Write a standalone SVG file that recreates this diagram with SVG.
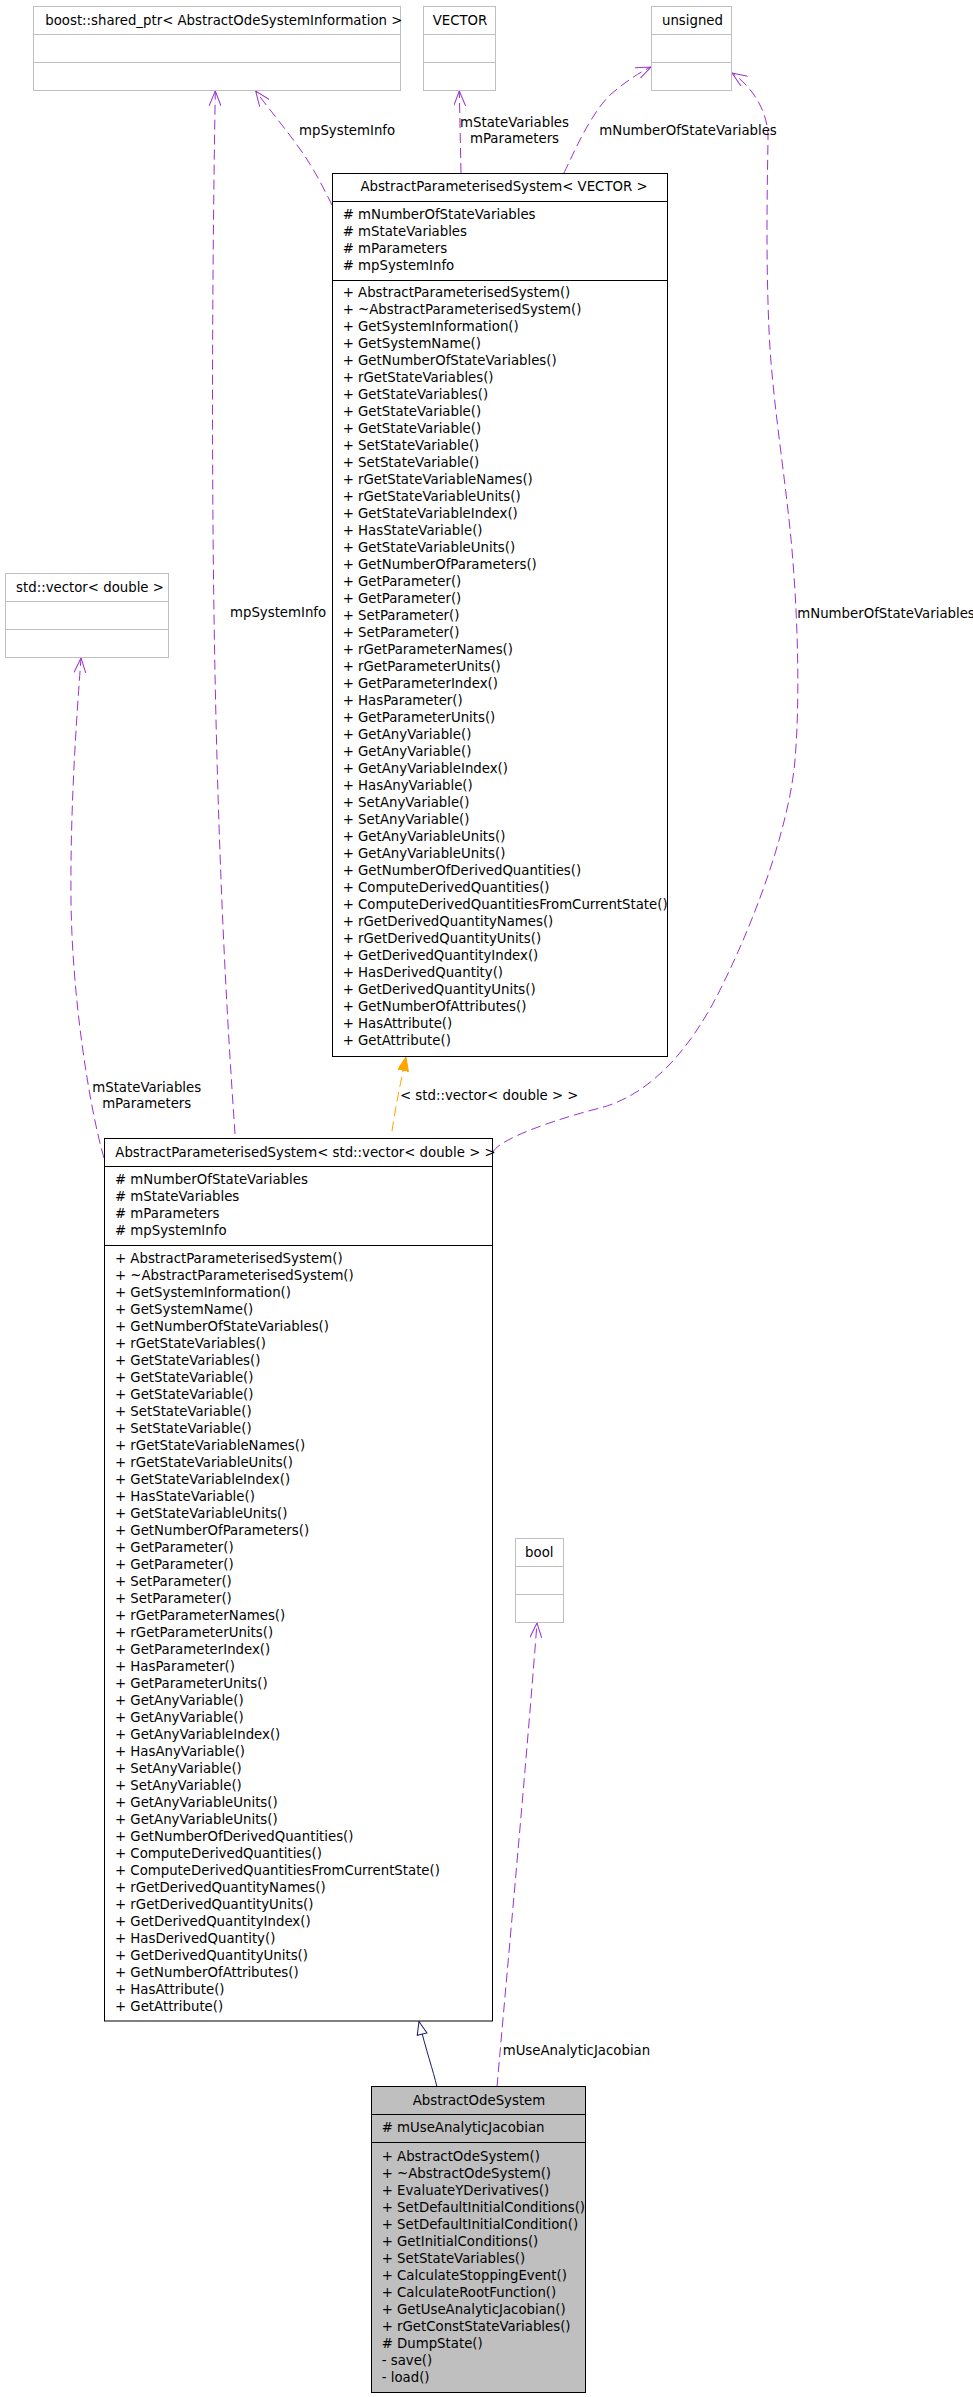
<svg xmlns="http://www.w3.org/2000/svg" width="973" height="2397" viewBox="0 0 973 2397">
<style>
text{font-family:"DejaVu Sans","Liberation Sans",sans-serif;font-size:13.3px;fill:#000}
.c{text-anchor:middle}
.tb{fill:#fff;stroke:#bfbfbf;stroke-width:1}
.tl{stroke:#bfbfbf;stroke-width:1}
.cb{fill:#fff;stroke:#000;stroke-width:1}
.cl{stroke:#000;stroke-width:1}
.use{fill:none;stroke:#9a32cd;stroke-width:1;stroke-dasharray:10,5;marker-end:url(#vee)}
.real{fill:none;stroke:#ffa500;stroke-width:1;stroke-dasharray:10,5;marker-end:url(#tri)}
.inh{fill:none;stroke:#191970;stroke-width:1;marker-end:url(#emp)}
</style>
<defs>
<marker id="vee" viewBox="0 0 15 12" refX="15" refY="6" markerWidth="15" markerHeight="12" markerUnits="userSpaceOnUse" orient="auto"><path d="M0,0 L15,6 L0,12" fill="none" stroke="#9a32cd" stroke-width="1"/></marker>
<marker id="tri" viewBox="0 0 14 11" refX="14" refY="5.5" markerWidth="14" markerHeight="11" markerUnits="userSpaceOnUse" orient="auto"><path d="M0,0 L14,5.5 L0,11 Z" fill="#ffa500" stroke="#ffa500" stroke-width="1"/></marker>
<marker id="emp" viewBox="0 0 15 12" refX="14" refY="6" markerWidth="15" markerHeight="12" markerUnits="userSpaceOnUse" orient="auto"><path d="M1,1 L14,6 L1,11 Z" fill="#fff" stroke="#191970" stroke-width="1"/></marker>
</defs>

<g id="connectors">
<path class="use" d="M235,1134 C226,1000 205,700 215.3,91"/>
<path class="use" d="M332,205 C322,185 312,165 297,145 C285,128 268,108 255.7,91"/>
<path class="use" d="M461,173 L459.3,91"/>
<path class="use" d="M564,173 C575,150 590,115 610,95 C625,82 640,72 651,67"/>
<path class="use" d="M493,1152 C500,1138 560,1118 600,1108 C650,1095 690,1050 720,990 C760,910 790,820 795,760 C800,700 798,620 792,550 C786,480 772,400 769,330 C766,260 767,200 768,140 C769,110 750,85 732,73"/>
<path class="use" d="M104,1158 C90,1110 72,1000 71,900 C70,800 78,700 81,658"/>
<path class="use" d="M497,2087 C508,1960 525,1780 537,1623"/>
<path class="real" d="M392,1131 C395,1110 400,1085 406,1057"/>
<path class="inh" d="M437,2087 C433,2070 426,2050 419,2021.5"/>
<text x="299" y="135">mpSystemInfo</text>
<text x="230" y="617">mpSystemInfo</text>
<text class="c" x="514.5" y="126.7">mStateVariables</text>
<text class="c" x="514.5" y="143.3">mParameters</text>
<text x="599.3" y="135">mNumberOfStateVariables</text>
<text x="797.3" y="618">mNumberOfStateVariables</text>
<text class="c" x="146.7" y="1091.7">mStateVariables</text>
<text class="c" x="146.7" y="1108.3">mParameters</text>
<text x="400" y="1100">&lt; std::vector&lt; double &gt; &gt;</text>
<text x="502.7" y="2055">mUseAnalyticJacobian</text>
</g>

<g id="node-boost">
<rect class="tb" x="33.5" y="6.5" width="367" height="84"/>
<line class="tl" x1="33.5" y1="34.5" x2="400.5" y2="34.5"/>
<line class="tl" x1="33.5" y1="62.5" x2="400.5" y2="62.5"/>
<text class="c" x="223.8" y="25">boost::shared_ptr&lt; AbstractOdeSystemInformation &gt;</text>
</g>

<g id="node-VECTOR">
<rect class="tb" x="423.5" y="6.5" width="72" height="84"/>
<line class="tl" x1="423.5" y1="34.5" x2="495.5" y2="34.5"/>
<line class="tl" x1="423.5" y1="62.5" x2="495.5" y2="62.5"/>
<text class="c" x="460" y="25">VECTOR</text>
</g>

<g id="node-unsigned">
<rect class="tb" x="651.5" y="6.5" width="80" height="84"/>
<line class="tl" x1="651.5" y1="34.5" x2="731.5" y2="34.5"/>
<line class="tl" x1="651.5" y1="62.5" x2="731.5" y2="62.5"/>
<text class="c" x="692.5" y="25">unsigned</text>
</g>

<g id="node-stdvector">
<rect class="tb" x="5.5" y="573.5" width="163" height="84"/>
<line class="tl" x1="5.5" y1="601.5" x2="168.5" y2="601.5"/>
<line class="tl" x1="5.5" y1="629.5" x2="168.5" y2="629.5"/>
<text class="c" x="90" y="592">std::vector&lt; double &gt;</text>
</g>

<g id="node-bool">
<rect class="tb" x="515.5" y="1538.5" width="48" height="84"/>
<line class="tl" x1="515.5" y1="1566.5" x2="563.5" y2="1566.5"/>
<line class="tl" x1="515.5" y1="1594.5" x2="563.5" y2="1594.5"/>
<text class="c" x="539.3" y="1556.7">bool</text>
</g>

<g id="node-APS-VECTOR">
<rect class="cb" x="332.5" y="173.5" width="335" height="883"/>
<line class="cl" x1="332.5" y1="201.5" x2="667.5" y2="201.5"/>
<line class="cl" x1="332.5" y1="280.5" x2="667.5" y2="280.5"/>
<text class="c" x="504" y="191">AbstractParameterisedSystem&lt; VECTOR &gt;</text>
<text x="342.7" y="218.5"><tspan x="342.7">#  mNumberOfStateVariables</tspan><tspan x="342.7" dy="17">#  mStateVariables</tspan><tspan x="342.7" dy="17">#  mParameters</tspan><tspan x="342.7" dy="17">#  mpSystemInfo</tspan></text>
<text x="342.7" y="296.5"><tspan x="342.7">+  AbstractParameterisedSystem()</tspan><tspan x="342.7" dy="17">+  ~AbstractParameterisedSystem()</tspan><tspan x="342.7" dy="17">+  GetSystemInformation()</tspan><tspan x="342.7" dy="17">+  GetSystemName()</tspan><tspan x="342.7" dy="17">+  GetNumberOfStateVariables()</tspan><tspan x="342.7" dy="17">+  rGetStateVariables()</tspan><tspan x="342.7" dy="17">+  GetStateVariables()</tspan><tspan x="342.7" dy="17">+  GetStateVariable()</tspan><tspan x="342.7" dy="17">+  GetStateVariable()</tspan><tspan x="342.7" dy="17">+  SetStateVariable()</tspan><tspan x="342.7" dy="17">+  SetStateVariable()</tspan><tspan x="342.7" dy="17">+  rGetStateVariableNames()</tspan><tspan x="342.7" dy="17">+  rGetStateVariableUnits()</tspan><tspan x="342.7" dy="17">+  GetStateVariableIndex()</tspan><tspan x="342.7" dy="17">+  HasStateVariable()</tspan><tspan x="342.7" dy="17">+  GetStateVariableUnits()</tspan><tspan x="342.7" dy="17">+  GetNumberOfParameters()</tspan><tspan x="342.7" dy="17">+  GetParameter()</tspan><tspan x="342.7" dy="17">+  GetParameter()</tspan><tspan x="342.7" dy="17">+  SetParameter()</tspan><tspan x="342.7" dy="17">+  SetParameter()</tspan><tspan x="342.7" dy="17">+  rGetParameterNames()</tspan><tspan x="342.7" dy="17">+  rGetParameterUnits()</tspan><tspan x="342.7" dy="17">+  GetParameterIndex()</tspan><tspan x="342.7" dy="17">+  HasParameter()</tspan><tspan x="342.7" dy="17">+  GetParameterUnits()</tspan><tspan x="342.7" dy="17">+  GetAnyVariable()</tspan><tspan x="342.7" dy="17">+  GetAnyVariable()</tspan><tspan x="342.7" dy="17">+  GetAnyVariableIndex()</tspan><tspan x="342.7" dy="17">+  HasAnyVariable()</tspan><tspan x="342.7" dy="17">+  SetAnyVariable()</tspan><tspan x="342.7" dy="17">+  SetAnyVariable()</tspan><tspan x="342.7" dy="17">+  GetAnyVariableUnits()</tspan><tspan x="342.7" dy="17">+  GetAnyVariableUnits()</tspan><tspan x="342.7" dy="17">+  GetNumberOfDerivedQuantities()</tspan><tspan x="342.7" dy="17">+  ComputeDerivedQuantities()</tspan><tspan x="342.7" dy="17">+  ComputeDerivedQuantitiesFromCurrentState()</tspan><tspan x="342.7" dy="17">+  rGetDerivedQuantityNames()</tspan><tspan x="342.7" dy="17">+  rGetDerivedQuantityUnits()</tspan><tspan x="342.7" dy="17">+  GetDerivedQuantityIndex()</tspan><tspan x="342.7" dy="17">+  HasDerivedQuantity()</tspan><tspan x="342.7" dy="17">+  GetDerivedQuantityUnits()</tspan><tspan x="342.7" dy="17">+  GetNumberOfAttributes()</tspan><tspan x="342.7" dy="17">+  HasAttribute()</tspan><tspan x="342.7" dy="17">+  GetAttribute()</tspan></text>
</g>

<g id="node-APS-stdvector">
<rect class="cb" x="104.5" y="1138.5" width="388" height="882.5"/>
<line class="cl" x1="104.5" y1="1166.5" x2="492.5" y2="1166.5"/>
<line class="cl" x1="104.5" y1="1245.5" x2="492.5" y2="1245.5"/>
<text class="c" x="305.5" y="1157">AbstractParameterisedSystem&lt; std::vector&lt; double &gt; &gt;</text>
<text x="115" y="1184"><tspan x="115">#  mNumberOfStateVariables</tspan><tspan x="115" dy="17">#  mStateVariables</tspan><tspan x="115" dy="17">#  mParameters</tspan><tspan x="115" dy="17">#  mpSystemInfo</tspan></text>
<text x="115" y="1262.5"><tspan x="115">+  AbstractParameterisedSystem()</tspan><tspan x="115" dy="17">+  ~AbstractParameterisedSystem()</tspan><tspan x="115" dy="17">+  GetSystemInformation()</tspan><tspan x="115" dy="17">+  GetSystemName()</tspan><tspan x="115" dy="17">+  GetNumberOfStateVariables()</tspan><tspan x="115" dy="17">+  rGetStateVariables()</tspan><tspan x="115" dy="17">+  GetStateVariables()</tspan><tspan x="115" dy="17">+  GetStateVariable()</tspan><tspan x="115" dy="17">+  GetStateVariable()</tspan><tspan x="115" dy="17">+  SetStateVariable()</tspan><tspan x="115" dy="17">+  SetStateVariable()</tspan><tspan x="115" dy="17">+  rGetStateVariableNames()</tspan><tspan x="115" dy="17">+  rGetStateVariableUnits()</tspan><tspan x="115" dy="17">+  GetStateVariableIndex()</tspan><tspan x="115" dy="17">+  HasStateVariable()</tspan><tspan x="115" dy="17">+  GetStateVariableUnits()</tspan><tspan x="115" dy="17">+  GetNumberOfParameters()</tspan><tspan x="115" dy="17">+  GetParameter()</tspan><tspan x="115" dy="17">+  GetParameter()</tspan><tspan x="115" dy="17">+  SetParameter()</tspan><tspan x="115" dy="17">+  SetParameter()</tspan><tspan x="115" dy="17">+  rGetParameterNames()</tspan><tspan x="115" dy="17">+  rGetParameterUnits()</tspan><tspan x="115" dy="17">+  GetParameterIndex()</tspan><tspan x="115" dy="17">+  HasParameter()</tspan><tspan x="115" dy="17">+  GetParameterUnits()</tspan><tspan x="115" dy="17">+  GetAnyVariable()</tspan><tspan x="115" dy="17">+  GetAnyVariable()</tspan><tspan x="115" dy="17">+  GetAnyVariableIndex()</tspan><tspan x="115" dy="17">+  HasAnyVariable()</tspan><tspan x="115" dy="17">+  SetAnyVariable()</tspan><tspan x="115" dy="17">+  SetAnyVariable()</tspan><tspan x="115" dy="17">+  GetAnyVariableUnits()</tspan><tspan x="115" dy="17">+  GetAnyVariableUnits()</tspan><tspan x="115" dy="17">+  GetNumberOfDerivedQuantities()</tspan><tspan x="115" dy="17">+  ComputeDerivedQuantities()</tspan><tspan x="115" dy="17">+  ComputeDerivedQuantitiesFromCurrentState()</tspan><tspan x="115" dy="17">+  rGetDerivedQuantityNames()</tspan><tspan x="115" dy="17">+  rGetDerivedQuantityUnits()</tspan><tspan x="115" dy="17">+  GetDerivedQuantityIndex()</tspan><tspan x="115" dy="17">+  HasDerivedQuantity()</tspan><tspan x="115" dy="17">+  GetDerivedQuantityUnits()</tspan><tspan x="115" dy="17">+  GetNumberOfAttributes()</tspan><tspan x="115" dy="17">+  HasAttribute()</tspan><tspan x="115" dy="17">+  GetAttribute()</tspan></text>
</g>

<g id="node-AbstractOdeSystem">
<rect x="371.5" y="2086.5" width="214" height="306" fill="#bfbfbf" stroke="#000" stroke-width="1"/>
<line class="cl" x1="371.5" y1="2114.5" x2="585.5" y2="2114.5"/>
<line class="cl" x1="371.5" y1="2142.5" x2="585.5" y2="2142.5"/>
<text class="c" x="479" y="2104.5">AbstractOdeSystem</text>
<text x="381.7" y="2131.7">#  mUseAnalyticJacobian</text>
<text x="381.7" y="2160.7"><tspan x="381.7">+  AbstractOdeSystem()</tspan><tspan x="381.7" dy="17">+  ~AbstractOdeSystem()</tspan><tspan x="381.7" dy="17">+  EvaluateYDerivatives()</tspan><tspan x="381.7" dy="17">+  SetDefaultInitialConditions()</tspan><tspan x="381.7" dy="17">+  SetDefaultInitialCondition()</tspan><tspan x="381.7" dy="17">+  GetInitialConditions()</tspan><tspan x="381.7" dy="17">+  SetStateVariables()</tspan><tspan x="381.7" dy="17">+  CalculateStoppingEvent()</tspan><tspan x="381.7" dy="17">+  CalculateRootFunction()</tspan><tspan x="381.7" dy="17">+  GetUseAnalyticJacobian()</tspan><tspan x="381.7" dy="17">+  rGetConstStateVariables()</tspan><tspan x="381.7" dy="17">#  DumpState()</tspan><tspan x="381.7" dy="17">-  save()</tspan><tspan x="381.7" dy="17">-  load()</tspan></text>
</g>
</svg>
